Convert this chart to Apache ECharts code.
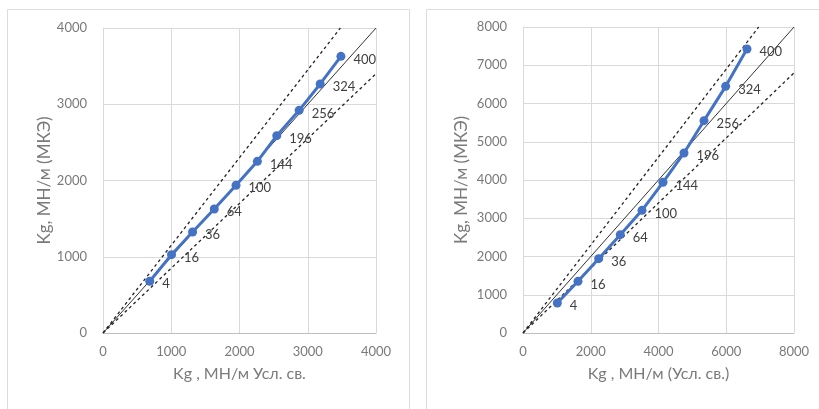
<!DOCTYPE html>
<html><head><meta charset="utf-8">
<script src="https://cdn.jsdelivr.net/npm/echarts@6/dist/echarts.min.js"></script>
<style>html,body{margin:0;padding:0;background:#fff}#c{width:819px;height:409px}</style>
</head><body><div id="c"></div>
<script>
// ---- data ----
const pointLabels = ['4','16','36','64','100','144','196','256','324','400'];
const leftX = [685, 1004, 1312, 1630, 1949, 2262, 2546, 2874, 3182, 3486];
const leftY = [678, 1027, 1325, 1626, 1937, 2251, 2588, 2920, 3266, 3628];
const rightX = [1013, 1624, 2234, 2873, 3513, 4133, 4753, 5343, 5983, 6612];
const rightY = [784, 1351, 1943, 2571, 3207, 3939, 4706, 5551, 6449, 7425];
// reference lines: [x, y] endpoints
const leftEqual = [[0, 0], [4000, 4000]];
const leftUpper = [[0, 0], [3478, 4000]];
const leftLower = [[0, 0], [4000, 3400]];
const rightEqual = [[0, 0], [8000, 8000]];
const rightUpper = [[0, 0], [6957, 8000]];
const rightLower = [[0, 0], [8000, 6800]];
const leftTicks = {min: 0, max: 4000, interval: 1000};
const rightTicks = {min: 0, max: 8000, xInterval: 2000, yInterval: 1000};
const xNameLeft = 'Kg , МН/м Усл. св.';
const xNameRight = 'Kg , МН/м (Усл. св.)';
const yName = 'Kg, МН/м (МКЭ)';

const FONT = 'Lato';
const tickColor = '#7a7a7a';
function zip(xs, ys){ return xs.map((x,i)=>[x, ys[i], pointLabels[i]]); }

function xAxis(gi, max, interval, name){
  return {type:'value', gridIndex:gi, min:0, max:max, interval:interval,
    name:name, nameLocation:'middle', nameGap:33,
    nameTextStyle:{color:tickColor, fontFamily:FONT, fontSize:16},
    axisLine:{show:true, lineStyle:{color:'#bfbfbf'}}, axisTick:{show:false},
    axisLabel:{color:tickColor, fontFamily:FONT, fontSize:13, margin:12, formatter:v=>String(v)},
    splitLine:{show:true, lineStyle:{color:'#d9d9d9'}}};
}
function yAxis(gi, max, interval, gap){
  return {type:'value', gridIndex:gi, min:0, max:max, interval:interval,
    name:yName, nameLocation:'middle', nameGap:gap, nameRotate:90,
    nameTextStyle:{color:tickColor, fontFamily:FONT, fontSize:17},
    axisLine:{show:true, lineStyle:{color:'#d9d9d9'}}, axisTick:{show:false},
    axisLabel:{color:tickColor, fontFamily:FONT, fontSize:13, margin:16, formatter:v=>String(v)},
    splitLine:{show:true, lineStyle:{color:'#d9d9d9'}}};
}
function refLine(gi, data, dashed){
  return {type:'line', xAxisIndex:gi, yAxisIndex:gi, data:data, symbol:'none', silent:true,
    lineStyle:{color: dashed ? '#222' : '#333', width: dashed ? 1.3 : 1, type: dashed ? [3,3] : 'solid'}, z:2};
}
function dataLine(gi, data){
  return {type:'line', xAxisIndex:gi, yAxisIndex:gi, data:data, symbol:'circle', symbolSize:9,
    itemStyle:{color:'#4472C4'}, lineStyle:{color:'#4472C4', width:3}, z:3,
    label:{show:true, position:'right', distance:6, offset:[2,3], color:'#404040', fontFamily:FONT, fontSize:13,
      formatter:p=>p.data[2]}};
}

const chart = echarts.init(document.getElementById('c'), null, {renderer:'canvas'});
chart.setOption({
  backgroundColor:'#fff',
  animation:false,
  graphic:[
    {type:'rect', shape:{x:7.5, y:9.5, width:402, height:420}, style:{fill:'none', stroke:'#dcdcdc', lineWidth:1}},
    {type:'rect', shape:{x:426.5, y:9.5, width:420, height:420}, style:{fill:'none', stroke:'#dcdcdc', lineWidth:1}}
  ],
  grid:[
    {left:103, top:28, width:273, height:305},
    {left:523, top:27, width:271, height:306}
  ],
  xAxis:[xAxis(0, leftTicks.max, leftTicks.interval, xNameLeft), xAxis(1, rightTicks.max, rightTicks.xInterval, xNameRight)],
  yAxis:[yAxis(0, leftTicks.max, leftTicks.interval, 50), yAxis(1, rightTicks.max, rightTicks.yInterval, 53)],
  series:[
    refLine(0, leftEqual, false), refLine(0, leftUpper, true), refLine(0, leftLower, true),
    dataLine(0, zip(leftX, leftY)),
    refLine(1, rightEqual, false), refLine(1, rightUpper, true), refLine(1, rightLower, true),
    dataLine(1, zip(rightX, rightY))
  ]
});
</script></body></html>
